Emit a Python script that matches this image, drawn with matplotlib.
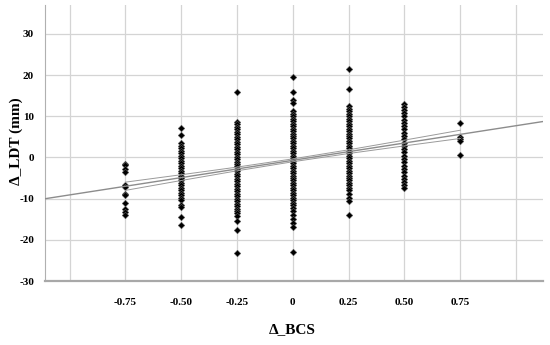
import numpy as np
import matplotlib.pyplot as plt

# change in BCS (x groups) and change in LDT (mm)
col_m075 = [-1.5, -1.9, -2.7, -3.6, -6.6, -7.2, -8.9, -9.1, -11.1, -12.4, -13.2, -13.9]
col_m050 = [7.2, 5.4, 3.5, 2.8, 2.2, 1.6, 1.0, 0.4, -0.2, -0.8, -1.4, -2.0, -2.6, -3.2,
            -3.8, -4.4, -5.0, -5.6, -6.2, -6.8, -7.4, -8.0, -8.6, -9.2, -9.8, -10.4,
            -11.5, -12.0, -14.5, -16.5]
col_m025 = [16.0, 8.6, 8.0, 7.4, 6.8, 6.2, 5.6, 5.0, 4.4, 3.8, 3.2, 2.6, 2.0, 1.4, 0.8,
            0.2, -0.4, -1.0, -1.6, -2.2, -2.8, -3.4, -4.0, -4.6, -5.2, -5.8, -6.4, -7.0,
            -7.6, -8.2, -8.8, -9.4, -10.0, -10.6, -11.2, -11.8, -12.4, -13.0, -13.6,
            -14.2, -15.5, -17.5, -23.2]
col_0 = [19.6, 16.0, 14.0, 13.2, 11.2, 10.6, 10.0, 9.4, 8.8, 8.2, 7.6, 7.0, 6.4, 5.8,
         5.2, 4.6, 4.0, 3.4, 2.8, 2.2, 1.6, 1.0, 0.4, -0.2, -0.8, -1.4, -2.0, -2.6,
         -3.2, -3.8, -4.4, -5.0, -5.6, -6.2, -6.8, -7.4, -8.0, -8.6, -9.2, -9.8,
         -10.4, -11.0, -11.6, -12.2, -13.0, -14.0, -15.0, -16.0, -17.0, -23.0]
col_025 = [21.5, 16.5, 12.4, 11.8, 11.2, 10.6, 10.0, 9.4, 8.8, 8.2, 7.6, 7.0, 6.4, 5.8,
           5.2, 4.6, 4.0, 3.4, 2.8, 2.2, 1.6, 1.0, 0.4, -0.2, -0.8, -1.4, -2.0, -2.6,
           -3.2, -3.8, -4.4, -5.0, -5.6, -6.2, -6.8, -7.4, -8.0, -9.0, -9.8, -10.6,
           -14.0]
col_050 = [13.0, 12.3, 11.6, 10.8, 10.0, 9.2, 8.4, 7.6, 6.8, 6.0, 5.2, 4.4, 3.6, 2.8,
           2.0, 1.2, 0.4, -0.4, -1.2, -2.0, -2.8, -3.6, -4.4, -5.2, -6.0, -6.8, -7.5]
col_075 = [8.3, 5.0, 4.5, 4.0, 0.5]

groups = [-0.75, -0.50, -0.25, 0.0, 0.25, 0.50, 0.75]
columns = [col_m075, col_m050, col_m025, col_0, col_025, col_050, col_075]

# fitted line and half-width of the confidence band
intercept = -0.7
slope = 8.4
band_half = [1.0, 0.7, 0.45, 0.35, 0.45, 0.7, 1.0]

fig = plt.figure(figsize=(5.5, 3.45), dpi=100)
ax = fig.add_axes([0.082, 0.1855, 0.905, 0.80])

grid_c = '#d4d4d4'
xmin, xmax = -1.11, 1.12

for x, vals in zip(groups, columns):
    ax.plot([x] * len(vals), vals, linestyle='none', marker='D', markersize=3.3,
            markerfacecolor='black', markeredgecolor='#555555', markeredgewidth=0.4,
            zorder=3)

lx = np.array([xmin, xmax])
ax.plot(lx, intercept + slope * lx, color='#8c8c8c', lw=1.0, zorder=4)

gx = np.array(groups)
fit = intercept + slope * gx
ax.plot(gx, fit + np.array(band_half), color='#9a9a9a', lw=0.7, zorder=4)
ax.plot(gx, fit - np.array(band_half), color='#9a9a9a', lw=0.7, zorder=4)

xt = [-1.0, -0.75, -0.50, -0.25, 0.0, 0.25, 0.50, 0.75, 1.0]
xt_labels = ['', '-0.75', '-0.50', '-0.25', '0', '0.25', '0.50', '0.75', '']
yt = [-30, -20, -10, 0, 10, 20, 30]

ax.set_xlim(xmin, xmax)
ax.set_ylim(-30, 37)
ax.set_xticks(xt)
ax.set_xticklabels(xt_labels)
ax.set_yticks(yt)
ax.set_yticklabels([str(v) for v in yt])

for x in xt:
    ax.axvline(x, color=grid_c, lw=0.9, zorder=1)
for y in yt[1:]:
    ax.axhline(y, color=grid_c, lw=0.9, zorder=1)

for s in ['top', 'right']:
    ax.spines[s].set_visible(False)
ax.spines['left'].set_color('#b0b0b0')
ax.spines['bottom'].set_color('#a8a8a8')
ax.spines['bottom'].set_linewidth(1.6)

ax.tick_params(length=0, pad=8)
for lab in ax.get_xticklabels() + ax.get_yticklabels():
    lab.set_fontfamily('Liberation Serif')
    lab.set_fontweight('bold')
    lab.set_fontsize(8)
ax.tick_params(axis='x', pad=12)

fig.text(0.532, 0.045, 'Δ_BCS', fontfamily='Liberation Serif', fontweight='bold',
         fontsize=11, ha='center', va='center')
fig.text(0.03, 0.59, 'Δ_LDT (mm)', fontfamily='Liberation Serif', fontweight='bold',
         fontsize=11, ha='center', va='center', rotation=90)

fig.savefig('out.png', dpi=100)
